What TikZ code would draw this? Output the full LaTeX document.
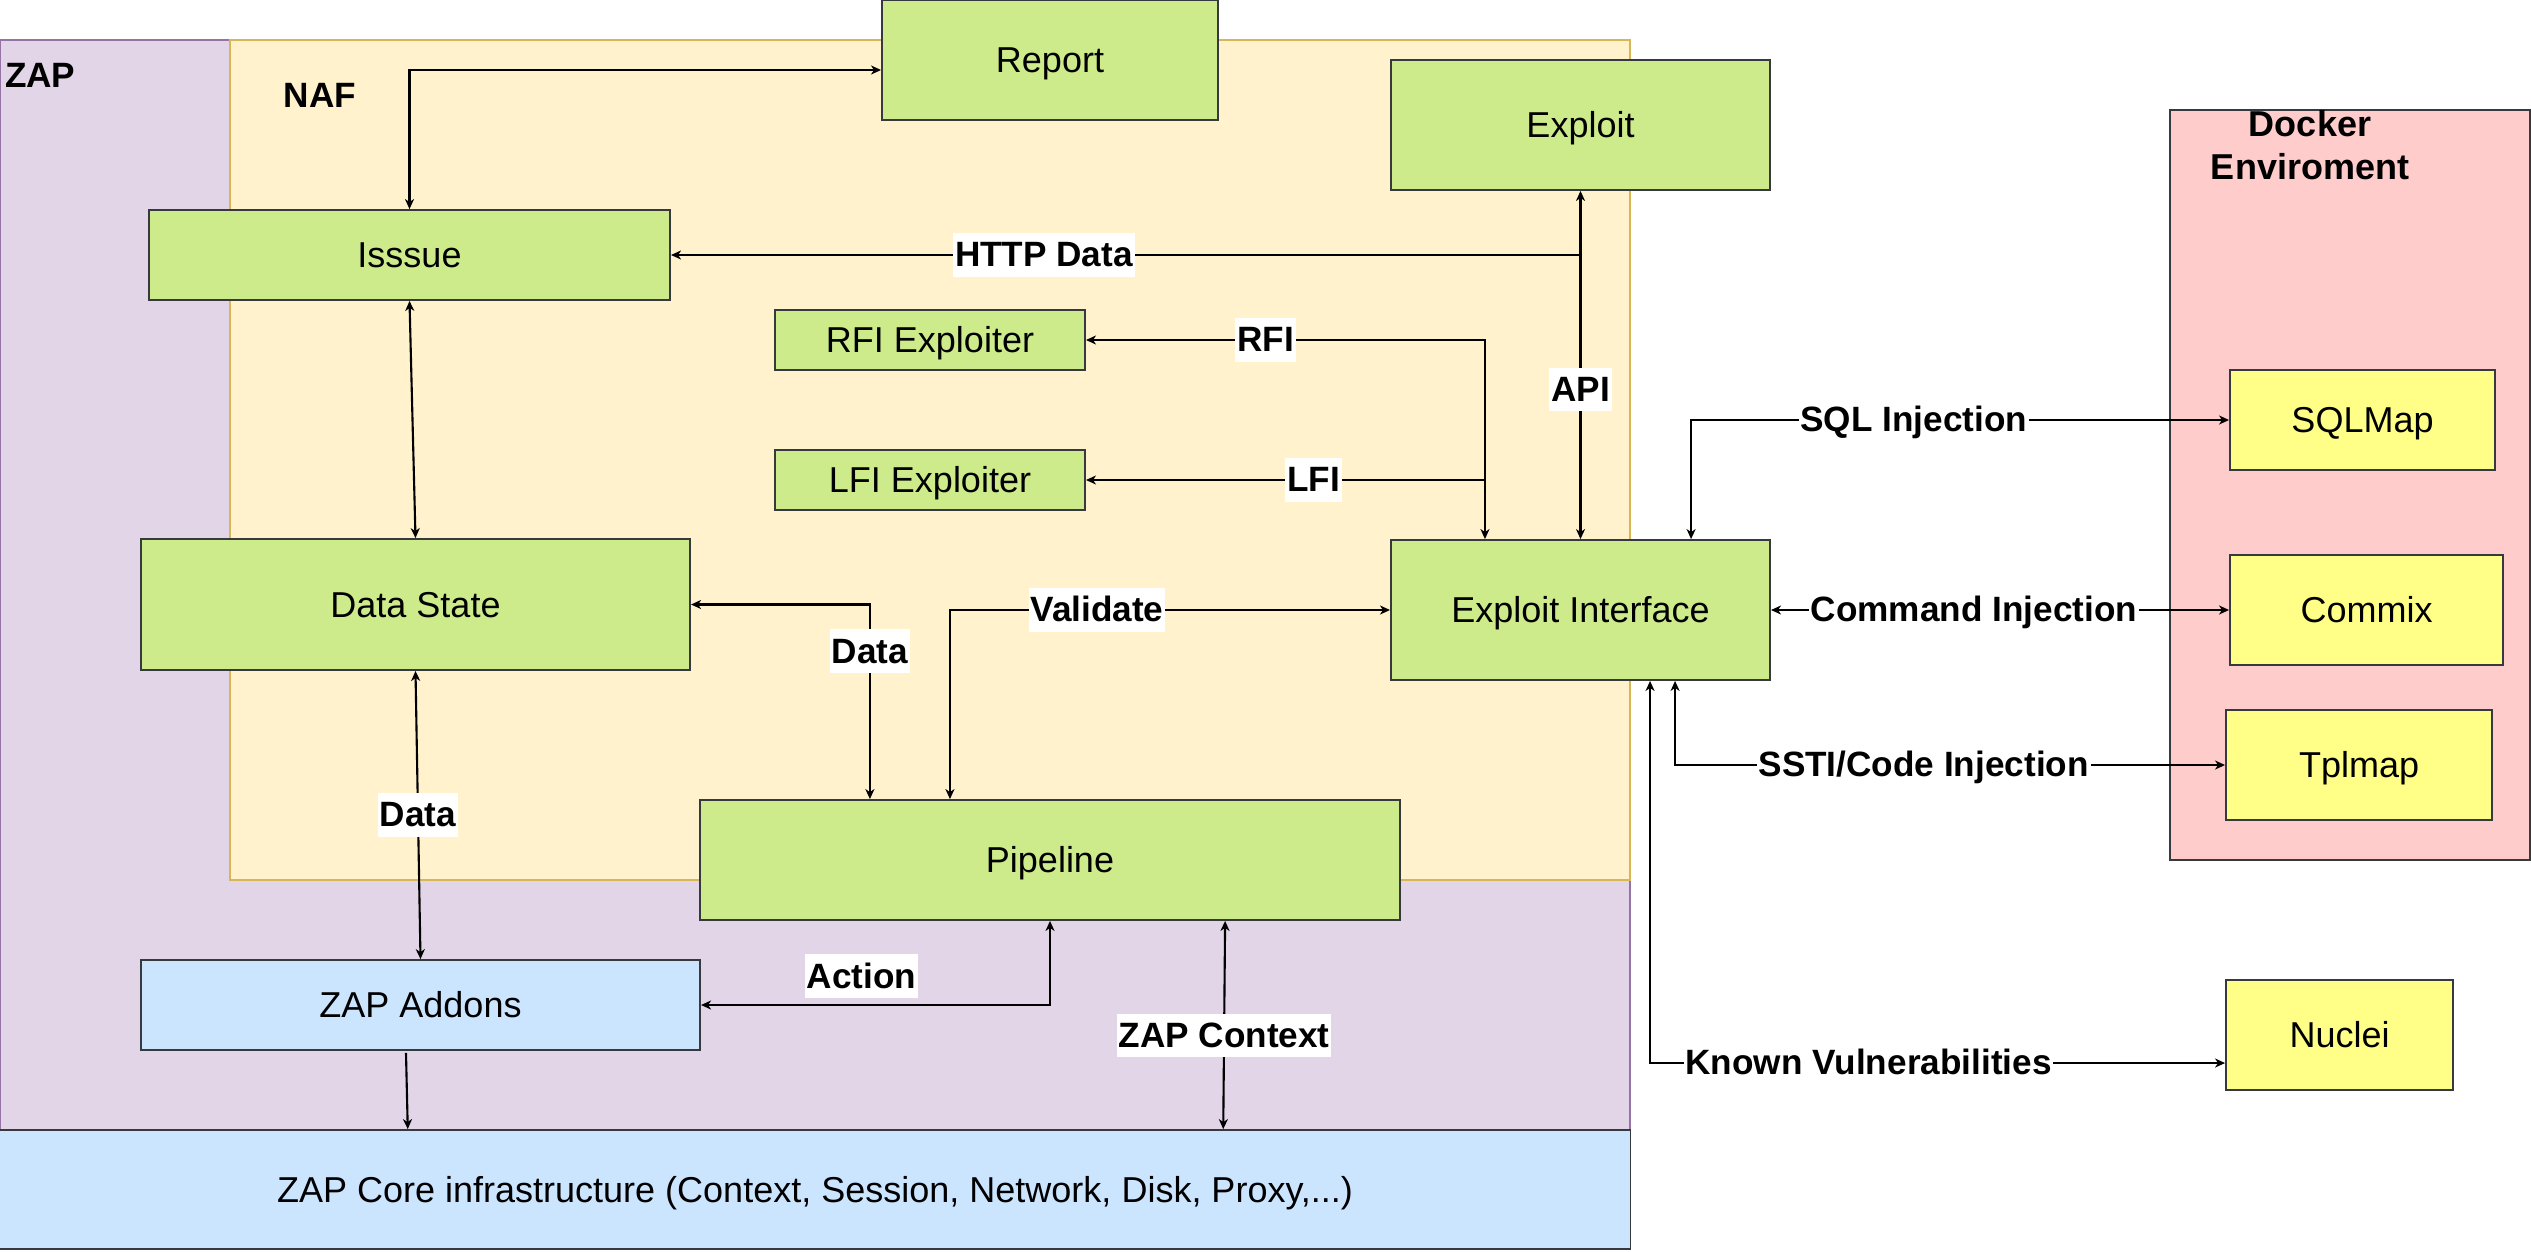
\documentclass[tikz,border=0pt]{standalone}
\usepackage{fontspec}
\setmainfont{Liberation Sans}
\usetikzlibrary{positioning, arrows.meta}

\definecolor{zapfill}{HTML}{E1D5E7}
\definecolor{zapline}{HTML}{9673A6}
\definecolor{naffill}{HTML}{FFF2CC}
\definecolor{nafline}{HTML}{D6B656}
\definecolor{greenfill}{HTML}{CDEB8B}
\definecolor{bluefill}{HTML}{CCE5FF}
\definecolor{pinkfill}{HTML}{FFCCCC}
\definecolor{toolfill}{HTML}{FFFF88}
\definecolor{boxline}{HTML}{36393D}

\tikzset{
  box/.style={draw=boxline, line width=0.5pt, inner sep=0pt,
    text height=0.72em, text depth=0pt},
  greenbox/.style={box, fill=greenfill},
  bluebox/.style={box, fill=bluefill},
  toolbox/.style={box, fill=toolfill},
  lbl/.style={fill=white, font=\bfseries, inner xsep=0.5pt, inner ysep=1pt,
    text height=0.86em, text depth=0.18em},
  title/.style={font=\bfseries, inner sep=0pt},
  >={Stealth[length=0.1cm, width=0.09cm, inset=0.03cm]}
}

\begin{document}
\begin{tikzpicture}[x=0.01cm, y=-0.01cm, line width=0.6pt,
    font=\fontsize{10.24}{12.3}\selectfont]
  \useasboundingbox (0,0) rectangle (2531,1251);

  % regions
  \filldraw[fill=zapfill, draw=zapline, line width=0.4pt] (0,40) rectangle (1630,1130);
  \filldraw[fill=naffill, draw=nafline, line width=0.4pt] (230,40) rectangle (1630,880);
  \filldraw[fill=pinkfill, draw=boxline, line width=0.4pt] (2170,110) rectangle (2530,860);
  \node[title, anchor=west] (ZAP) at (4,75) {ZAP};
  \node[title] (NAF) at (320,95) {NAF};
  \node[title, align=center, font=\bfseries\fontsize{10.24}{12.2}\selectfont] (Docker) at (2310,145) {Docker\\Enviroment};

  % boxes
  \node[greenbox, minimum width=3.36cm, minimum height=1.2cm] (Report) at (1050,60) {Report};
  \node[greenbox, minimum width=3.79cm, minimum height=1.3cm] (Exploit) at (1580.5,125) {Exploit};
  \node[greenbox, minimum width=5.21cm, minimum height=0.9cm] (Issue) at (409.5,255) {Isssue};
  \node[greenbox, minimum width=3.1cm, minimum height=0.6cm] (RFI) at (930,340) {RFI Exploiter};
  \node[greenbox, minimum width=3.1cm, minimum height=0.6cm] (LFI) at (930,480) {LFI Exploiter};
  \node[greenbox, minimum width=5.49cm, minimum height=1.31cm] (DS) at (415.5,604.5) {Data State};
  \node[greenbox, minimum width=3.79cm, minimum height=1.4cm] (EI) at (1580.5,610) {Exploit Interface};
  \node[greenbox, minimum width=7cm, minimum height=1.2cm] (Pipe) at (1050,860) {Pipeline};
  \node[bluebox, minimum width=5.59cm, minimum height=0.9cm] (Addons) at (420.5,1005) {ZAP Addons};
  \node[bluebox, minimum width=16.3cm, minimum height=1.19cm] (Core) at (815,1189.5) {ZAP Core infrastructure (Context, Session, Network, Disk, Proxy,...)};
  \node[toolbox, minimum width=2.65cm, minimum height=1cm] (SQLMap) at (2362.5,420) {SQLMap};
  \node[toolbox, minimum width=2.73cm, minimum height=1.1cm] (Commix) at (2366.5,610) {Commix};
  \node[toolbox, minimum width=2.66cm, minimum height=1.1cm] (Tplmap) at (2359,765) {Tplmap};
  \node[toolbox, minimum width=2.27cm, minimum height=1.1cm] (Nuclei) at (2339.5,1035) {Nuclei};

  % helper points
  \coordinate (HTTP) at (Exploit.south |- Issue.east);
  \coordinate (RFIbase) at ([xshift=-0.955cm]EI.north);
  \coordinate (LFIj) at (RFIbase |- LFI.east);

  % connectors
  \draw [<->] (Issue.north) |- ([yshift=-0.1cm]Report.west);
  \draw [->] (HTTP) -- node[lbl, pos=0.59] {HTTP Data} (Issue.east);
  \draw [<->] (Exploit.south) -- node[lbl, pos=0.57] {API} (EI.north);
  \draw [<->] (RFIbase) |- node[lbl, pos=0.775] {RFI} (RFI.east);
  \draw [->] (LFIj) -- node[lbl, pos=0.43] {LFI} (LFI.east);
  \draw [<->] (Issue.south) -- (DS.north);
  \draw [<->] (DS.east) -| node[lbl, pos=0.62] {Data} ([xshift=-1.8cm]Pipe.north);
  \draw [<->] ([xshift=-1cm]Pipe.north) |- node[lbl, pos=0.667] {Validate} (EI.west);
  \draw [<->] (DS.south) -- node[lbl, pos=0.5] {Data} (Addons.north);
  \draw [<->] (Pipe.south) |- node[lbl, above=0.06cm, pos=0.77] {Action} (Addons.east);
  \draw [<->] ([xshift=1.75cm]Pipe.south) -- node[lbl, pos=0.55] {ZAP Context} ([xshift=4.08cm]Core.north);
  \draw [->] ([xshift=-0.145cm, yshift=-0.02cm]Addons.south) -- ([xshift=-4.07cm]Core.north);
  \draw [<->] ([xshift=1.105cm]EI.north) |- node[lbl, pos=0.707] {SQL Injection} (SQLMap.west);
  \draw [<->] (EI.east) -- node[lbl, pos=0.443] {Command Injection} (Commix.west);
  \draw [<->] ([xshift=0.945cm]EI.south) |- node[lbl, pos=0.726] {SSTI/Code Injection} (Tplmap.west);
  \draw [<->] ([xshift=0.695cm]EI.south) |- node[lbl, pos=0.69] {Known Vulnerabilities} ([yshift=-0.28cm]Nuclei.west);
\end{tikzpicture}
\end{document}
